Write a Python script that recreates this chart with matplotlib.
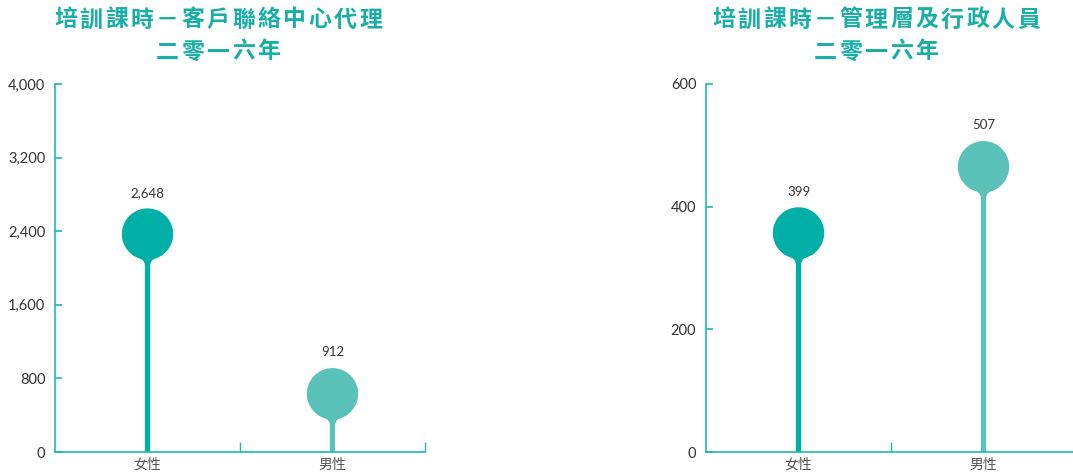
import matplotlib.pyplot as plt
import numpy as np
from matplotlib.path import Path
from matplotlib.patches import PathPatch
from matplotlib.transforms import Affine2D, ScaledTranslation

plt.rcParams['font.family'] = ['Lato', 'Noto Sans CJK TC', 'DejaVu Sans']

# 数据
categories = ['女性', '男性']
titles = ['培訓課時－客戶聯絡中心代理\n二零一六年', '培訓課時－管理層及行政人員\n二零一六年']
values_left = [2648, 912]
values_right = [399, 507]
yticks_left = [0, 800, 1600, 2400, 3200, 4000]
yticks_right = [0, 200, 400, 600]

colors = ['#00AFA5', '#5BC2BA']
axis_color = '#1DBAAE'
title_color = '#1AAFA6'

fig = plt.figure(figsize=(10.73, 4.75), dpi=100)


def lollipop_path(R=18.5, w=1.9, stem_len=2000):
    # 以圆顶为原点，单位为点(pt)
    t = np.linspace(0, 2 * np.pi, 80)
    verts = [(R * np.cos(a), -R + R * np.sin(a)) for a in t]
    codes = [Path.MOVETO] + [Path.LINETO] * (len(t) - 2) + [Path.CLOSEPOLY]
    a0 = np.deg2rad(235)
    a1 = np.deg2rad(305)
    p0 = (R * np.cos(a0), -R + R * np.sin(a0))
    p1 = (R * np.cos(a1), -R + R * np.sin(a1))
    neck = [(0, -R), p0, (-w, -2 * R + 1.0), (-w, -2 * R - 4),
            (-w, -stem_len), (w, -stem_len), (w, -2 * R - 4),
            (w, -2 * R + 1.0), p1, (0, -R)]
    ncodes = [Path.MOVETO, Path.LINETO, Path.CURVE3, Path.CURVE3,
              Path.LINETO, Path.LINETO, Path.LINETO,
              Path.CURVE3, Path.CURVE3, Path.CLOSEPOLY]
    return Path(verts + neck, codes + ncodes)


def spaced_title(text, cx, cy, size, gap):
    # 逐字排版，加大字距
    n = len(text)
    step = size * 1.0 + gap  # pt
    start = -(n - 1) / 2 * step
    for i, ch in enumerate(text):
        off = ScaledTranslation((start + i * step) / 72, 0, fig.dpi_scale_trans)
        fig.text(cx, cy, ch, ha='center', va='center', fontsize=size,
                 color=title_color, fontweight='bold',
                 family=['Noto Sans CJK TC'],
                 transform=fig.transFigure + off)


def draw(ax, values, yticks, title, tx):
    ax.set_xlim(0, 2)
    ax.set_ylim(0, yticks[-1])
    xs = [0.5, 1.5]
    for x, v, c in zip(xs, values, colors):
        trans = (Affine2D().scale(1 / 72) + fig.dpi_scale_trans
                 + ScaledTranslation(x, v, ax.transData))
        patch = PathPatch(lollipop_path(), transform=trans, facecolor=c,
                          edgecolor='none', clip_on=True)
        patch.set_clip_box(ax.bbox)
        ax.add_patch(patch)
        ax.annotate(f'{v:,}', (x, v), xytext=(0, 7), textcoords='offset points',
                    ha='center', va='bottom', fontsize=9.5, color='#333333')
    ax.set_xticks(xs)
    ax.set_xticklabels(categories, fontsize=10, color='#555555')
    ax.tick_params(axis='x', length=0, pad=4)
    ax.set_xticks([1, 2], minor=True)
    ax.tick_params(axis='x', which='minor', direction='in', length=7,
                   color=axis_color, width=1)
    ax.set_yticks(yticks)
    ax.set_yticklabels([f'{t:,}' for t in yticks], fontsize=10.5, color='#333333')
    ax.tick_params(axis='y', direction='in', length=5, color=axis_color,
                   width=1.2, pad=7)
    for s in ['top', 'right']:
        ax.spines[s].set_visible(False)
    for s in ['left', 'bottom']:
        ax.spines[s].set_color(axis_color)
        ax.spines[s].set_linewidth(1.2)
    line1, line2 = title.split('\n')
    spaced_title(line1, tx, 1 - 20 / 475, 16.5, 1.8)
    spaced_title(line2, tx, 1 - 52 / 475, 16.5, 1.8)


ax1 = fig.add_axes([55 / 1073, 23 / 475, 370 / 1073, 368 / 475])
draw(ax1, values_left, yticks_left, titles[0], 218 / 1073)
ax2 = fig.add_axes([706 / 1073, 23 / 475, 370 / 1073, 368 / 475])
draw(ax2, values_right, yticks_right, titles[1], 876 / 1073)

fig.savefig('out.png', dpi=100)
